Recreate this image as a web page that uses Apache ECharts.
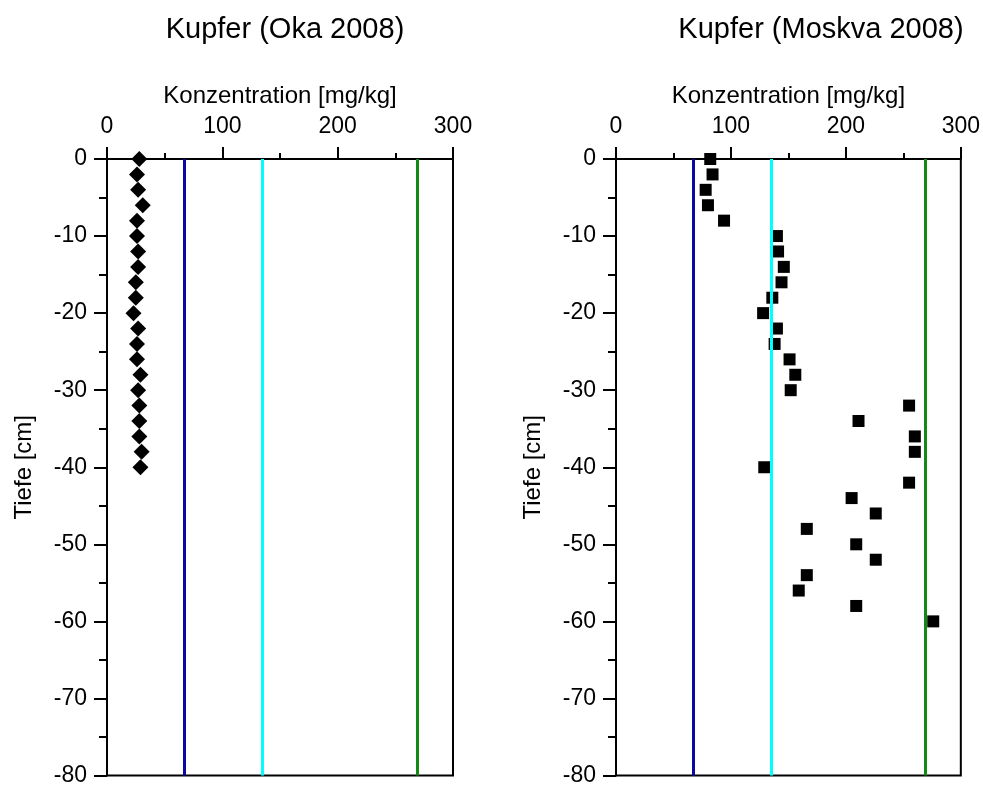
<!DOCTYPE html>
<html>
<head>
<meta charset="utf-8">
<title>Kupfer</title>
<script src="https://cdn.jsdelivr.net/npm/echarts@6/dist/echarts.min.js"></script>
<style>
  html, body { margin: 0; padding: 0; background: #fff; }
  #chart { width: 983px; height: 787px; }
</style>
</head>
<body>
<div id="chart"></div>
<script>
// Tiefe [cm] und Kupfer-Konzentration [mg/kg]
const okaDepth = [0, -2, -4, -6, -8, -10, -12, -14, -16, -18, -20, -22, -24, -26, -28, -30, -32, -34, -36, -38, -40];
const okaCu = [28, 26, 27, 31, 26, 26, 27, 27, 25, 25, 23, 27, 26, 26, 29, 27, 28, 28, 28, 30, 29];

const moskvaDepth = [0, -2, -4, -6, -8, -10, -12, -14, -16, -18, -20, -22, -24, -26, -28, -30,
  -32, -34, -36, -38, -40, -42, -44, -46, -48, -50, -52, -54, -56, -58, -60];
const moskvaCu = [82, 84, 78, 80, 94, 140, 141, 146, 144, 136, 128, 140, 138, 151, 156, 152,
  255, 211, 260, 260, 129, 255, 205, 226, 166, 209, 226, 166, 159, 209, 276];

// Richtwerte
const thresholds = [67, 135, 269];
const thresholdColors = ["#0a0aa0", "#00ffff", "#138a13"];

const xTicks = { min: 0, max: 300, interval: 100 };
const yTicks = { min: -80, max: 0, interval: 10 };

const font = "Liberation Sans";
const chart = echarts.init(document.getElementById("chart"));

function pairs(xs, ys) {
  return xs.map((x, i) => [x, ys[i]]);
}

function xAxisFor(gridIndex) {
  return {
    gridIndex,
    type: "value",
    position: "top",
    min: xTicks.min,
    max: xTicks.max,
    interval: xTicks.interval,
    name: "Konzentration [mg/kg]",
    nameLocation: "middle",
    nameGap: 51,
    nameTextStyle: { fontFamily: font, fontSize: 24, color: "#000" },
    axisLine: { show: true, onZero: false, lineStyle: { color: "#000", width: 2 } },
    axisTick: { show: true, inside: false, length: 12, lineStyle: { color: "#000", width: 2 } },
    minorTick: { show: true, splitNumber: 2, length: 6, lineStyle: { color: "#000", width: 2 } },
    axisLabel: { fontFamily: font, fontSize: 23, color: "#000", margin: 21 },
    splitLine: { show: false },
  };
}

function yAxisFor(gridIndex) {
  return {
    gridIndex,
    type: "value",
    min: yTicks.min,
    max: yTicks.max,
    interval: yTicks.interval,
    name: "Tiefe [cm]",
    nameLocation: "middle",
    nameGap: 71,
    nameTextStyle: { fontFamily: font, fontSize: 24, color: "#000" },
    axisLine: { show: true, onZero: false, lineStyle: { color: "#000", width: 2 } },
    axisTick: { show: true, inside: false, length: 13, lineStyle: { color: "#000", width: 2 } },
    minorTick: { show: true, splitNumber: 2, length: 8, lineStyle: { color: "#000", width: 2 } },
    axisLabel: { fontFamily: font, fontSize: 23, color: "#000", margin: 20 },
    splitLine: { show: false },
  };
}

function thresholdLines() {
  return {
    silent: true,
    symbol: "none",
    animation: false,
    label: { show: false },
    data: thresholds.map((v, i) => ({
      xAxis: v,
      lineStyle: { color: thresholdColors[i], width: 3, type: "solid", opacity: 1 },
    })),
  };
}

const option = {
  backgroundColor: "#fff",
  animation: false,
  title: [
    {
      text: "Kupfer (Oka 2008)",
      left: 280,
      top: 10,
      textAlign: "center",
      textStyle: { fontFamily: font, fontSize: 29, fontWeight: "normal", color: "#000" },
    },
    {
      text: "Kupfer (Moskva 2008)",
      left: 816,
      top: 10,
      textAlign: "center",
      textStyle: { fontFamily: font, fontSize: 29, fontWeight: "normal", color: "#000" },
    },
  ],
  grid: [
    { left: 107, top: 159, width: 346, height: 617, show: true, borderColor: "#000", borderWidth: 2 },
    { left: 616, top: 159, width: 347, height: 617, show: true, borderColor: "#000", borderWidth: 2 },
  ],
  xAxis: [xAxisFor(0), xAxisFor(1)],
  yAxis: [yAxisFor(0), yAxisFor(1)],
  series: [
    {
      name: "Oka",
      type: "scatter",
      xAxisIndex: 0,
      yAxisIndex: 0,
      symbol: "diamond",
      symbolSize: 16,
      itemStyle: { color: "#000", opacity: 1 },
      data: pairs(okaCu, okaDepth),
      markLine: thresholdLines(),
      z: 3,
    },
    {
      name: "Moskva",
      type: "scatter",
      xAxisIndex: 1,
      yAxisIndex: 1,
      symbol: "rect",
      symbolSize: 12,
      itemStyle: { color: "#000", opacity: 1 },
      data: pairs(moskvaCu, moskvaDepth),
      markLine: thresholdLines(),
      z: 3,
    },
  ],
};

chart.setOption(option);
</script>
</body>
</html>
